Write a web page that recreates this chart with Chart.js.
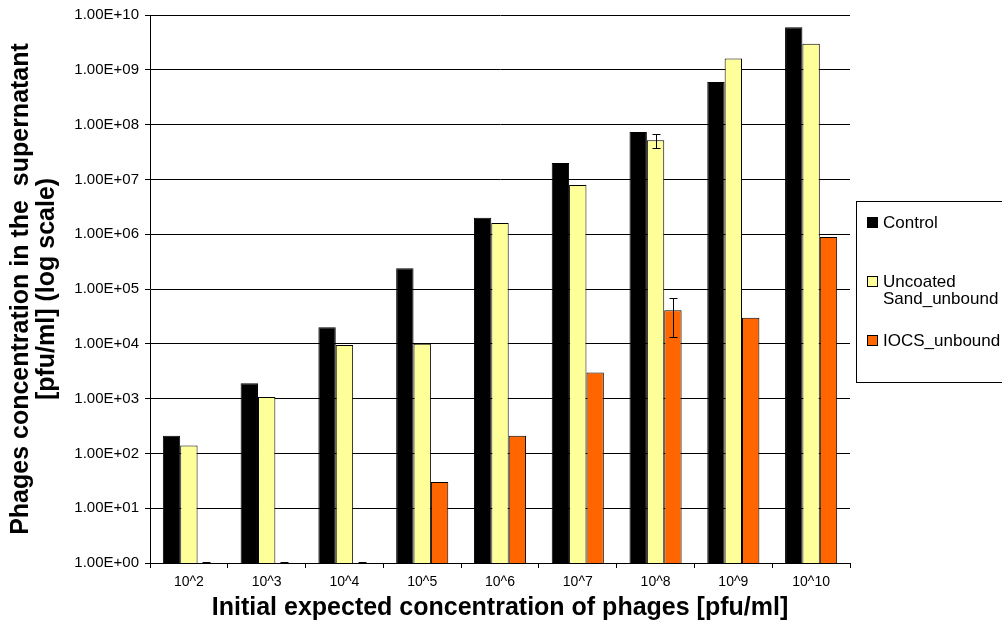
<!DOCTYPE html>
<html>
<head>
<meta charset="utf-8">
<script src="https://cdn.jsdelivr.net/npm/chart.js@4.4.0/dist/chart.umd.min.js"></script>
<style>
  html, body { margin: 0; padding: 0; background: #fff; }
  #wrap { position: relative; width: 1002px; height: 624px; overflow: hidden; }
  #legend {
    position: absolute; left: 856px; top: 201px; width: 170px; height: 182px;
    border: 1px solid #000; box-sizing: border-box;
    font-family: "Liberation Sans", Arial, sans-serif; font-size: 17px; color: #000;
  }
  .sw { position: absolute; left: 10px; width: 9px; height: 9px; border: 1px solid #000; }
  .txt { position: absolute; left: 26px; line-height: 17px; white-space: nowrap; }
</style>
</head>
<body>
<div id="wrap">
  <canvas id="chart" width="1002" height="624"></canvas>
  <div id="legend">
    <span class="sw" style="top:15px;background:#000"></span>
    <div class="txt" style="top:12px">Control</div>
    <span class="sw" style="top:74px;background:#FFFF99"></span>
    <div class="txt" style="top:71px">Uncoated<br>Sand_unbound</div>
    <span class="sw" style="top:133px;background:#FF6600"></span>
    <div class="txt" style="top:130px">IOCS_unbound</div>
  </div>
</div>
<script>
// categories and values
const categories = ['10^2', '10^3', '10^4', '10^5', '10^6', '10^7', '10^8', '10^9', '10^10'];
const control = [210, 1900, 20000, 240000, 2000000, 20000000, 73000000, 600000000, 6000000000];
const uncoated = [140, 1070, 9500, 10000, 1600000, 7900000, 52000000, 1600000000, 3000000000];
const iocs = [1, 1, 1, 30, 210, 3000, 41000, 30000, 890000];

// error bars [low, high], null where none
const uncoatedErr = [null, null, null, null, null, null, [36000000, 67000000], null, null];
const iocsErr = [[1, 1], [1, 1], [1, 1], null, null, null, [13000, 69000], null, null];

const yTicks = [1, 10, 100, 1e3, 1e4, 1e5, 1e6, 1e7, 1e8, 1e9, 1e10];

function sci(v) {
  const e = Math.round(Math.log10(v));
  return '1.00E+' + (e < 10 ? '0' + e : e);
}

const errorBars = {
  id: 'errorBars',
  afterDatasetsDraw(chart) {
    const ctx = chart.ctx;
    const y = chart.scales.y;
    ctx.save();
    ctx.strokeStyle = '#000';
    ctx.lineWidth = 1;
    chart.data.datasets.forEach((ds, di) => {
      if (!ds.errors) return;
      const meta = chart.getDatasetMeta(di);
      ds.errors.forEach((err, i) => {
        if (!err) return;
        const x = Math.round(meta.data[i].x) + 0.5;
        const lo = Math.round(y.getPixelForValue(err[0])) - 0.5;
        const hi = Math.round(y.getPixelForValue(err[1])) + 0.5;
        ctx.beginPath();
        ctx.moveTo(x, lo); ctx.lineTo(x, hi);
        ctx.moveTo(x - 4, lo); ctx.lineTo(x + 4, lo);
        ctx.moveTo(x - 4, hi); ctx.lineTo(x + 4, hi);
        ctx.stroke();
      });
    });
    ctx.restore();
  }
};

const font = "'Liberation Sans', Arial, sans-serif";
Chart.defaults.font.family = font;
Chart.defaults.color = '#000';

new Chart(document.getElementById('chart'), {
  type: 'bar',
  data: {
    labels: categories,
    datasets: [
      { label: 'Control', data: control, backgroundColor: '#000000' },
      { label: 'Uncoated Sand_unbound', data: uncoated, backgroundColor: '#FFFF99', errors: uncoatedErr },
      { label: 'IOCS_unbound', data: iocs, backgroundColor: '#FF6600', errors: iocsErr }
    ]
  },
  options: {
    responsive: false,
    animation: false,
    layout: { padding: { top: 15, right: 152, left: 0, bottom: 0 } },
    datasets: {
      bar: { borderColor: '#000', borderWidth: 1, borderSkipped: 'bottom', categoryPercentage: 0.67, barPercentage: 1 }
    },
    plugins: { legend: { display: false }, tooltip: { enabled: false } },
    scales: {
      x: {
        grid: { drawOnChartArea: false, drawTicks: true, tickLength: 5, offset: true, color: '#000' },
        border: { color: '#000' },
        ticks: { font: { size: 14 }, padding: 6, maxRotation: 0 },
        title: {
          display: true, text: 'Initial expected concentration of phages [pfu/ml]',
          font: { size: 25, weight: 'bold', lineHeight: 1.2 }, padding: { top: 0, bottom: 1 }
        },
        afterFit(s) { s.height = 61; }
      },
      y: {
        type: 'logarithmic',
        min: 1, max: 1e10,
        afterBuildTicks(s) { s.ticks = yTicks.map(v => ({ value: v })); },
        grid: { color: '#000', tickLength: 5 },
        border: { color: '#000' },
        ticks: { font: { size: 15 }, padding: 6, callback: v => sci(v) },
        title: {
          display: true,
          text: ['Phages concentration in the  supernatant', '[pfu/ml] (log scale)'],
          font: { size: 25, weight: 'bold', lineHeight: 1.04 }, padding: { top: 8, bottom: 0 }
        },
        afterFit(s) { s.width = 150; }
      }
    }
  },
  plugins: [errorBars]
});
</script>
</body>
</html>
